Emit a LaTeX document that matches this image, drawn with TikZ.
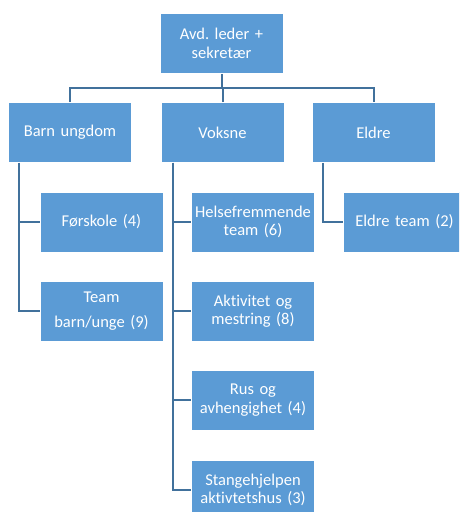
\documentclass[tikz,border=0pt]{standalone}
\usepackage{fontspec}
\setmainfont{Carlito}[RawFeature={-liga;-clig}]
\frenchspacing
\definecolor{boxblue}{HTML}{5B9BD5}
\definecolor{linkblue}{HTML}{41719C}
\tikzset{
  unit/.style={draw=white, line width=0.6pt, fill=boxblue, text=white,
    minimum width=123pt, minimum height=60pt, text width=121pt,
    align=center, inner sep=0pt, font=\fontsize{16.5}{18.5}\selectfont},
  link/.style={draw=linkblue, line width=2pt}
}
\begin{document}
\begin{tikzpicture}[x=1pt, y=-1pt]
  % Organisation chart
  \useasboundingbox (0,0) rectangle (459,512);
  \clip (0,0) rectangle (459,512);

  \node[unit] (top) at (221.5,43.5) {Avd. leder +\\sekretær};
  \node[unit] (barn) at (70,132.5) {Barn ungdom};
  \node[unit] (voksne) at (222.5,132.5) {Voksne};
  \node[unit] (eldre) at (373.5,132.5) {Eldre};

  \node[unit] (forskole) at (101.5,222) {Førskole (4)};
  \node[unit] (team) at (101.5,311) {Team\\[6pt]barn/unge (9)};

  \node[unit] (helse) at (253,222) {Helsefremmende\\team (6)};
  \node[unit] (aktiv) at (253,311) {Aktivitet og\\mestring (8)};
  \node[unit] (rus) at (253,400) {Rus og\\avhengighet (4)};
  \node[unit] (stange) at (253,490) {Stangehjelpen\\aktivtetshus (3)};

  \node[unit] (eldreteam) at (404.5,222) {Eldre team (2)};

  % top level
  \coordinate (bus) at (221.5,88);
  \draw[link] (top.south) -- (bus);
  \draw[link] (barn.north) |- (bus) -| (eldre.north);
  \draw[link] (voksne.north) -- (voksne.north |- bus);

  % sub units
  \draw[link] ([xshift=11pt]barn.south west) |- (forskole.west);
  \draw[link] ([xshift=11pt]barn.south west) |- (team.west);
  \foreach \n in {helse, aktiv, rus, stange}
    \draw[link] ([xshift=12pt]voksne.south west) |- (\n.west);
  \draw[link] ([xshift=11pt]eldre.south west) |- (eldreteam.west);
\end{tikzpicture}
\end{document}
